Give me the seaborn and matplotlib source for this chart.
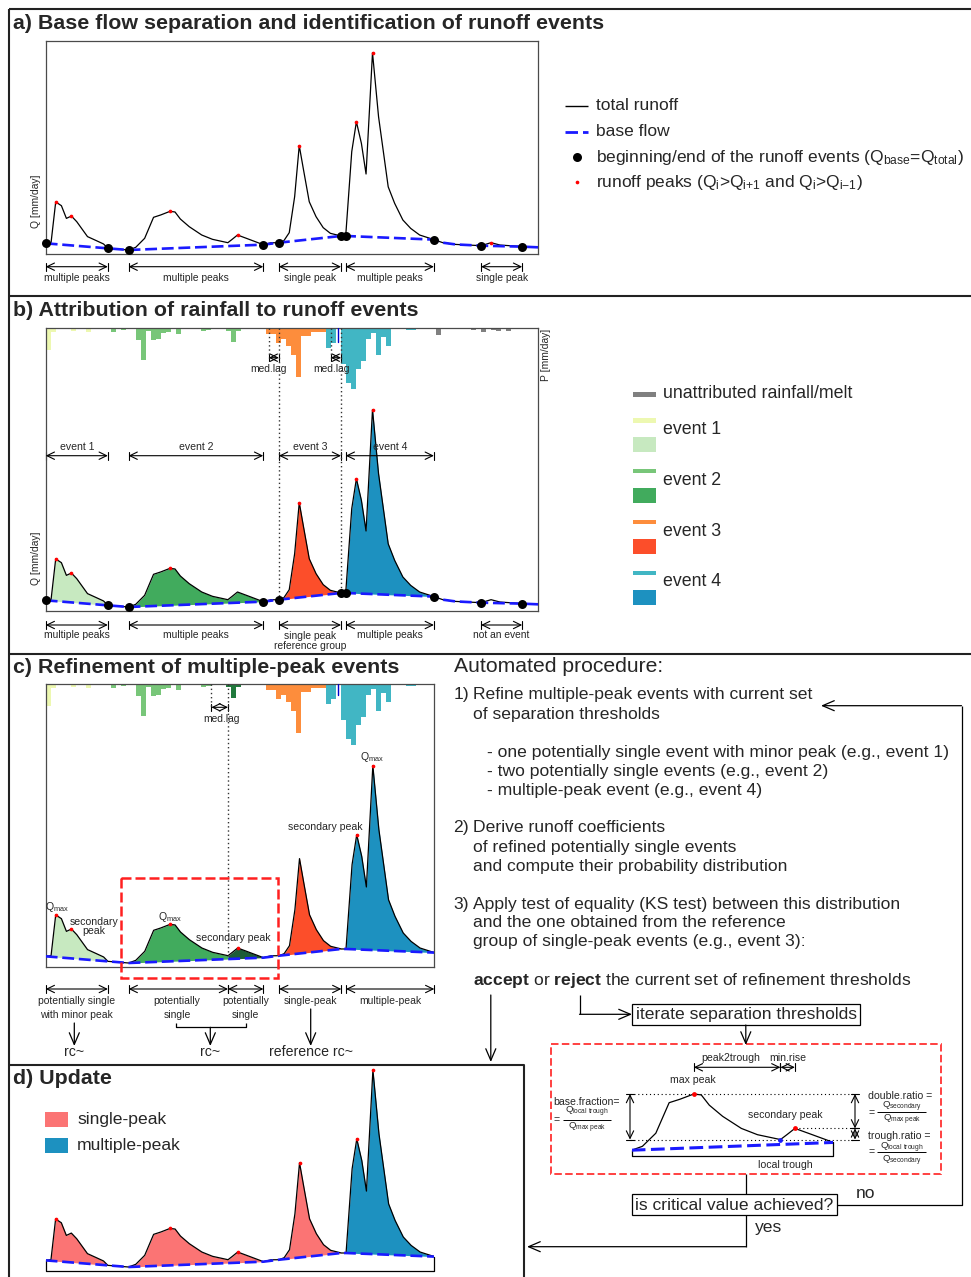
import numpy as np
import matplotlib
matplotlib.use("Agg")
import matplotlib.pyplot as plt
from matplotlib.patches import Rectangle
import seaborn as sns

sns.set_theme(style="white")
plt.rcParams["font.family"] = ["Liberation Sans", "DejaVu Sans"]
plt.rcParams["mathtext.fontset"] = "custom"
plt.rcParams["mathtext.rm"] = "Liberation Sans"
plt.rcParams["mathtext.it"] = "Liberation Sans:italic"
plt.rcParams["mathtext.bf"] = "Liberation Sans:bold"
plt.rcParams["mathtext.default"] = "regular"

# ---------------- hydrograph (day, Q in mm/day) ----------------
t_total = [0.0, 1.07, 2.0, 3.14, 4.14, 5.14, 6.21, 8.36, 10.14, 11.57, 12.43,
           16.57, 18.0, 19.79, 21.57, 23.0, 24.86, 25.86, 26.93, 28.71, 31.21, 33.36,
           36.43, 37.29, 38.36, 40.14, 42.29, 43.5, 45.0, 46.64,
           47.64, 48.71, 49.79, 50.71, 51.57, 52.71, 54.07, 55.5, 56.93, 59.07,
           60.0, 61.21, 62.14, 63.14, 64.07, 65.36, 66.57, 68.5, 69.79, 71.43, 73.0,
           74.79, 77.64, 79.43, 81.93, 87.07, 89.07, 90.86, 93.71, 95.29, 98.5]
q_total = [1.0, 1.06, 4.88, 4.53, 3.34, 3.56, 3.03, 1.63, 1.25, 0.94, 0.53,
           0.375, 0.625, 1.47, 3.44, 3.66, 4.0, 3.94, 3.28, 2.56, 1.78, 1.375,
           1.06, 1.375, 1.78, 1.47, 1.09, 0.875, 1.05, 1.06,
           1.25, 2.0, 5.375, 10.16, 7.875, 4.9, 3.5, 2.47, 1.94, 1.69,
           1.69, 9.6, 12.4, 10.375, 7.5, 18.875, 12.875, 6.3, 4.75, 3.19, 2.4,
           1.78, 1.35, 1.06, 0.9, 0.78, 1.06, 0.84, 0.75, 0.69, 0.625]
t_base = [0.0, 12.43, 16.57, 43.5, 46.64, 59.07, 60.0, 77.64, 79.43, 81.93, 87.07, 95.29, 98.5]
q_base = [1.0, 0.53, 0.375, 0.875, 1.06, 1.69, 1.69, 1.35, 1.06, 0.9, 0.78, 0.69, 0.625]

event_start = [0.0, 16.57, 46.64, 60.0, 87.07]
event_end = [12.43, 43.5, 59.07, 77.64, 95.29]

peaks_a = [2.0, 5.14, 24.86, 38.36, 50.71, 62.14, 65.36, 89.07]
peaks_b = [2.0, 5.14, 24.86, 50.71, 62.14, 65.36]
peaks_c = [2.0, 5.14, 24.86, 38.36, 62.14, 65.36]
peaks_d = [2.0, 24.86, 38.36, 50.71, 62.14, 65.36]

# ---------------- daily precipitation (mm/day) ----------------
rain_day = [0, 1, 2, 3, 5, 8,
            13, 15, 17, 18, 19, 20, 21, 22, 23, 24, 26, 31, 32, 36, 37, 38,
            44, 45, 46, 47, 48, 49, 50, 51, 52, 53, 54, 55,
            56, 57, 59, 60, 61, 62, 63, 64, 65, 66, 67, 68, 69, 72, 73,
            75, 77, 78, 82, 85, 87, 89, 90, 92]
rain_mm = [11.0, 1.8, 0.5, 0.4, 1.5, 1.8,
           1.8, 1.0, 0.5, 6.0, 16.0, 1.4, 6.0, 5.2, 2.5, 2.0, 3.0, 1.2, 0.6, 1.5, 7.0, 1.5,
           2.85, 2.85, 7.5, 5.5, 9.0, 13.5, 24.5, 4.0, 4.0, 1.85, 1.85, 1.85,
           10.0, 7.3, 17.8, 27.3, 30.3, 20.3, 16.5, 5.2, 2.3, 13.2, 4.5, 8.7, 0.5, 1.0, 1.0,
           0.4, 0.5, 3.2, 0.4, 1.0, 2.0, 1.0, 1.5, 1.5]
rain_event = (["e1"] * 6 + ["e2"] * 16 + ["e3"] * 12 + ["e4"] * 15 + ["none"] * 9)

labels_a = ["multiple peaks", "multiple peaks", "single peak", "multiple peaks", "single peak"]
labels_b_top = ["event 1", "event 2", "event 3", "event 4"]
labels_b_bottom = ["multiple peaks", "multiple peaks", "single peak\nreference group",
                   "multiple peaks", "not an event"]

trough_t = 36.43          # local trough splitting event 2
split_rain_day = 34       # rain of event 2 assigned to the second sub-event
medlag_b = [(44.6, 46.64), (57.0, 59.07)]
medlag_c = (33.1, 36.43)

# ---------------- colours ----------------
BLUE = "#1a1aff"
RAIN_COL = {"e1": "#edf8b1", "e2": "#78c679", "e3": "#fd8d3c", "e4": "#41b6c4", "none": "#808080"}
FILL_COL = ["#c7e9c0", "#41ab5d", "#fc4e2a", "#1d91c0"]
DARK_RAIN = "#217a3d"
DARK_FILL = "#1c5c37"
SINGLE_COL = "#fb7474"
MULTI_COL = "#1d91c0"

W, H = 971, 1277
fig = plt.figure(figsize=(W / 100, H / 100), dpi=100)
fig.patch.set_facecolor("white")

BOXES = {}


def px_axes(box, xlim, ylim):
    x0, y0, x1, y1 = box
    ax = fig.add_axes([x0 / W, 1 - y1 / H, (x1 - x0) / W, (y1 - y0) / H])
    BOXES[ax] = (box, xlim, ylim)
    ax.set_xlim(*xlim)
    ax.set_ylim(*ylim)
    ax.set_xticks([])
    ax.set_yticks([])
    for s in ax.spines.values():
        s.set_color("#4a4a4a")
        s.set_linewidth(0.9)
    return ax


def pxy(ax, ypx):
    (x0, y0, x1, y1), xl, yl = BOXES[ax]
    return yl[0] + (y1 - ypx) / (y1 - y0) * (yl[1] - yl[0])


def pxx(ax, xpx):
    (x0, y0, x1, y1), xl, yl = BOXES[ax]
    return xl[0] + (xpx - x0) / (x1 - x0) * (xl[1] - xl[0])


def finish(ax):
    _, xl, yl = BOXES[ax]
    ax.set_xlim(*xl)
    ax.set_ylim(*yl)
    ax.set_xlabel("")
    ax.set_ylabel("")


def draw_q(ax, tmin, tmax):
    t = np.array(t_total)
    m = (t >= tmin - 1e-9) & (t <= tmax + 1e-9)
    sns.lineplot(x=t[m], y=np.array(q_total)[m], ax=ax, color="black",
                 lw=0.9, estimator=None, sort=False, legend=False, zorder=3)


def draw_base(ax, tmax, lw=1.9):
    m = np.array(t_base) <= tmax + 1e-9
    sns.lineplot(x=np.array(t_base)[m], y=np.array(q_base)[m], ax=ax, color=BLUE,
                 lw=lw, estimator=None, sort=False, legend=False, zorder=4)
    ax.lines[-1].set_linestyle((0, (4.5, 1.8)))


def fill_event(ax, t0, t1, color):
    inner = [t for t in list(t_total) + list(t_base) if t0 < t < t1]
    grid = np.unique(np.concatenate([[t0, t1], inner]))
    ax.fill_between(grid, np.interp(grid, t_base, q_base), np.interp(grid, t_total, q_total),
                    color=color, lw=0, zorder=2)


def dots(ax, ts, series_t, series_q, color, s):
    sns.scatterplot(x=ts, y=np.interp(ts, series_t, series_q), ax=ax, color=color, s=s,
                    linewidth=0, zorder=6, clip_on=False, legend=False)


def span(ax, t0, t1, ypx, tick=4.0, lw=0.8):
    y = pxy(ax, ypx)
    dy = pxy(ax, ypx - tick) - y
    ax.annotate("", xy=(t1, y), xytext=(t0, y),
                arrowprops=dict(arrowstyle="<->,head_length=0.45,head_width=0.22", lw=lw,
                                color="black", shrinkA=0, shrinkB=0),
                annotation_clip=False)
    for t in (t0, t1):
        ax.plot([t, t], [y - dy, y + dy], color="black", lw=lw, clip_on=False)


def vspan(ax, t, q0, q1, tick=4.0, lw=0.8):
    dx = pxx(ax, tick) - pxx(ax, 0)
    ax.annotate("", xy=(t, q1), xytext=(t, q0),
                arrowprops=dict(arrowstyle="<->,head_length=0.45,head_width=0.22", lw=lw,
                                color="black", shrinkA=0, shrinkB=0),
                annotation_clip=False)
    for q in (q0, q1):
        ax.plot([t - dx, t + dx], [q, q], color="black", lw=lw, clip_on=False)


def draw_rain(ax, split=None):
    rax = ax.twinx()
    cols = []
    for d, ev in zip(rain_day, rain_event):
        c = RAIN_COL[ev]
        if split is not None and ev == "e2" and d >= split:
            c = DARK_RAIN
        cols.append(c)
    rax.bar(rain_day, rain_mm, width=1.0, align="edge", color=cols, lw=0)
    _, xl, yl = BOXES[ax]
    rax.set_xlim(*xl)
    rax.set_ylim(141.35, 0)
    rax.set_yticks([])
    rax.grid(False)
    for s in rax.spines.values():
        s.set_visible(False)
    ax.set_zorder(rax.get_zorder() + 1)
    ax.patch.set_visible(False)
    return rax


# ================= a) base flow separation =================
axA = px_axes((45.7, 40.7, 538.2, 254.0), (0, 98.5), (0, 20))
draw_q(axA, 0, 98.5)
draw_base(axA, 98.5)
bounds = sorted(event_start + event_end)
dots(axA, bounds, t_base, q_base, "black", 42)
dots(axA, peaks_a, t_total, q_total, "red", 7)
for t0, t1, lab in zip(event_start, event_end, labels_a):
    span(axA, t0, t1, 266.7)
    axA.text((t0 + t1) / 2, pxy(axA, 278.5), lab, ha="center", va="center", fontsize=7.4)
finish(axA)

# ================= b) attribution of rainfall =================
axB = px_axes((45.7, 328.3, 538.2, 611.0), (0, 98.5), (0, 26.5))
draw_rain(axB)
for i in range(4):
    fill_event(axB, event_start[i], event_end[i], FILL_COL[i])
draw_q(axB, 0, 98.5)
draw_base(axB, 98.5)
dots(axB, bounds, t_base, q_base, "black", 42)
dots(axB, peaks_b, t_total, q_total, "red", 7)
for (t0, t1), tx in zip(medlag_b, [44.0, 56.5]):
    y_arr = pxy(axB, 357.7)
    axB.plot([t0, t0], [26.5, y_arr], color="#333333", lw=1.0, ls=(0, (1, 2)), zorder=5)
    axB.plot([t1, t1], [26.5, np.interp(t1, t_base, q_base)], color="#333333", lw=1.0,
             ls=(0, (1, 2)), zorder=5)
    span(axB, t0, t1, 357.7, tick=3.5)
    axB.text(tx + 0.6, pxy(axB, 368.5), "med.lag", ha="center", va="center", fontsize=7.4)
axB.plot([58.45, 58.45], [26.5, 26.5 - 7 * 26.5 / 141.35], color="#0000cc", lw=1.0, zorder=5)
for t0, t1, lab in zip(event_start[:4], event_end[:4], labels_b_top):
    span(axB, t0, t1, 455.7)
    axB.text((t0 + t1) / 2, pxy(axB, 447.0), lab, ha="center", va="center", fontsize=7.6)
for t0, t1, lab in zip(event_start, event_end, labels_b_bottom):
    span(axB, t0, t1, 625.0)
    yy = 641.0 if "\n" in lab else 634.5
    axB.text((t0 + t1) / 2, pxy(axB, yy), lab, ha="center", va="center", fontsize=7.4,
             linespacing=0.95)
finish(axB)

# ================= c) refinement of multiple-peak events =================
T_C = 77.64
axC = px_axes((45.7, 684.3, 434.3, 967.0), (0, T_C), (0, 26.5))
draw_rain(axC, split=split_rain_day)
fill_event(axC, event_start[0], event_end[0], FILL_COL[0])
fill_event(axC, event_start[1], trough_t, FILL_COL[1])
fill_event(axC, trough_t, event_end[1], DARK_FILL)
fill_event(axC, event_start[2], event_end[2], FILL_COL[2])
fill_event(axC, event_start[3], event_end[3], FILL_COL[3])
draw_q(axC, 0, T_C)
draw_base(axC, T_C)
dots(axC, peaks_c, t_total, q_total, "red", 7)
c0, c1 = medlag_c
axC.plot([c0, c0], [26.5, pxy(axC, 707.3)], color="#333333", lw=1.0, ls=(0, (1, 2)), zorder=5)
axC.plot([c1, c1], [26.5, np.interp(c1, t_total, q_total)], color="#333333", lw=1.0,
         ls=(0, (1, 2)), zorder=5)
span(axC, c0, c1, 707.3, tick=3.5)
axC.text(pxx(axC, 221.7), pxy(axC, 719.0), "med.lag", ha="center", va="center", fontsize=7.4)
axC.plot([58.45, 58.45], [26.5, 26.5 - 5.5 * 26.5 / 141.35], color="#0000cc", lw=1.0, zorder=5)

for x, y, s in [(57, 907.5, r"Q$_{max}$"), (170, 916.5, r"Q$_{max}$"), (372, 757.5, r"Q$_{max}$"),
                (233, 937.7, "secondary peak"), (325, 826.7, "secondary peak"),
                (94, 922.3, "secondary"), (94, 930.5, "peak")]:
    axC.text(pxx(axC, x), pxy(axC, y), s, ha="center", va="center", fontsize=7.6)

c_spans = [(event_start[0], event_end[0]), (event_start[1], trough_t), (trough_t, event_end[1]),
           (event_start[2], event_end[2]), (event_start[3], event_end[3])]
for t0, t1 in c_spans:
    span(axC, t0, t1, 989.0)
finish(axC)

# ================= d) update =================
axD = px_axes((45.6, 1060.0, 434.4, 1271.0), (0, T_C), (0, 19.81))
for s in axD.spines.values():
    s.set_visible(False)
for i in range(3):
    fill_event(axD, event_start[i], event_end[i], SINGLE_COL)
fill_event(axD, event_start[3], event_end[3], MULTI_COL)
draw_q(axD, 0, T_C)
draw_base(axD, T_C)
dots(axD, peaks_d, t_total, q_total, "red", 7)
qb0, qb1 = np.interp([0.0, T_C], t_base, q_base)
axD.plot([0, 0, T_C, T_C], [qb0, 0, 0, qb1], color="black", lw=0.9, clip_on=False, zorder=3)
finish(axD)

# ================= mini hydrograph of the separation criteria =================
ev2_t0, ev2_t1 = event_start[1], event_end[1]
axM = px_axes((631.7, 1076.0, 833.4, 1156.0), (ev2_t0, ev2_t1), (0, 80 / 15.5))
for s in axM.spines.values():
    s.set_visible(False)
draw_q(axM, ev2_t0, ev2_t1)
mb = np.interp([ev2_t0, ev2_t1], t_base, q_base)
sns.lineplot(x=[ev2_t0, ev2_t1], y=mb, ax=axM, color=BLUE, lw=2.2, estimator=None,
             legend=False, zorder=4)
axM.lines[-1].set_linestyle((0, (4.5, 1.8)))
axM.plot([ev2_t0, ev2_t0, ev2_t1, ev2_t1], [mb[0], 0, 0, mb[1]], color="black", lw=0.9,
         clip_on=False)
q_max_pk = np.interp(24.86, t_total, q_total)
q_sec = np.interp(38.36, t_total, q_total)
q_tr = np.interp(trough_t, t_total, q_total)
dots(axM, [24.86, 38.36], t_total, q_total, "red", 12)
dots(axM, [trough_t], t_total, q_total, BLUE, 12)
xl_, xr_ = pxx(axM, 630.0), pxx(axM, 855.0)
dot_ls = dict(color="black", lw=0.8, ls=(0, (1, 2.5)), clip_on=False)
axM.plot([xl_, xr_], [q_max_pk, q_max_pk], **dot_ls)
axM.plot([xl_, xr_], [q_tr, q_tr], **dot_ls)
axM.plot([38.36, xr_], [q_sec, q_sec], **dot_ls)
vspan(axM, xl_, q_tr, q_max_pk)
vspan(axM, xr_, q_sec, q_max_pk)
vspan(axM, xr_, q_tr, q_sec)
span(axM, 24.86, trough_t, 1067.3)
span(axM, trough_t, 38.36, 1067.3)
finish(axM)

# ================= overlay: frames, titles, legends, flow chart =================
ov = fig.add_axes([0, 0, 1, 1], zorder=20)
ov.set_xlim(0, W)
ov.set_ylim(H, 0)
ov.axis("off")


def seg(xs, ys, **kw):
    kw.setdefault("color", "black")
    kw.setdefault("lw", 0.9)
    ov.plot(xs, ys, solid_capstyle="butt", **kw)


def arr(x0, y0, x1, y1):
    ov.annotate("", xy=(x1, y1), xytext=(x0, y0),
                arrowprops=dict(arrowstyle="->,head_length=0.7,head_width=0.3", lw=0.9,
                                color="black", shrinkA=0, shrinkB=0, mutation_scale=12))


def txt(x, y, s, size, **kw):
    kw.setdefault("va", "center")
    ov.text(x, y, s, fontsize=size, **kw)


FRAME = dict(color="#222222", lw=1.5)
seg([9, 971], [9, 9], **FRAME)
seg([9, 9], [9, 1277], **FRAME)
seg([9, 971], [296, 296], **FRAME)
seg([9, 971], [654, 654], **FRAME)
seg([9, 524, 524], [1065, 1065, 1277], **FRAME)

TITLE = dict(fontweight="bold")
txt(13, 23.5, "a) Base flow separation and identification of runoff events", 15.4, **TITLE)
txt(13, 310.5, "b) Attribution of rainfall to runoff events", 15.4, **TITLE)
txt(13, 667.5, "c) Refinement of multiple-peak events", 15.4, **TITLE)
txt(13, 1078.5, "d) Update", 15.4, **TITLE)

# axis labels
txt(36, 201, "Q [mm/day]", 7.4, rotation=90, ha="center")
txt(36, 558, "Q [mm/day]", 7.4, rotation=90, ha="center")
txt(546, 355, "P [mm/day]", 7.4, rotation=90, ha="center")

# legend of panel a
LEG = 12.5
seg([565, 588], [106, 106], lw=1.0)
seg([565, 588], [131.7, 131.7], color=BLUE, lw=2.0, ls=(0, (4.5, 1.8)))
ov.scatter([576.7], [157.3], s=42, color="black", lw=0)
ov.scatter([576.7], [182.3], s=7, color="red", lw=0)
txt(596, 106, "total runoff", LEG)
txt(596, 131.7, "base flow", LEG)
txt(596, 157.3, r"beginning/end of the runoff events (Q$_{base}$=Q$_{total}$)", LEG)
txt(596, 182.3, r"runoff peaks (Q$_{i}$>Q$_{i{+}1}$ and Q$_{i}$>Q$_{i{-}1}$)", LEG)

# legend of panel b
ov.add_patch(Rectangle((632.7, 392.3), 23.3, 4.4, color=RAIN_COL["none"], lw=0))
txt(663.3, 394.0, "unattributed rainfall/melt", 12.8)
for i, (ty, by, tty) in enumerate([(418.3, 436.7, 430.0), (469.0, 487.7, 480.5),
                                   (520.0, 539.0, 531.0), (570.7, 590.0, 581.5)]):
    ov.add_patch(Rectangle((632.7, ty), 23.3, 4.4, color=RAIN_COL["e%d" % (i + 1)], lw=0))
    ov.add_patch(Rectangle((632.7, by), 23.3, 15.0, color=FILL_COL[i], lw=0))
    txt(663.3, tty, "event %d" % (i + 1), 12.8)

# panel c: refinement window and event groups
ov.add_patch(Rectangle((121, 877.7), 157.3, 100.0, fill=False, ec="#ff2020", lw=1.8,
                       ls=(0, (4, 1.6))))
SM = 7.5
txt(76.3, 1000.7, "potentially single", SM, ha="center")
txt(76.3, 1015.3, "with minor peak", SM, ha="center")
txt(177.0, 1000.7, "potentially", SM, ha="center")
txt(177.0, 1015.3, "single", SM, ha="center")
txt(245.7, 1000.7, "potentially", SM, ha="center")
txt(245.7, 1015.3, "single", SM, ha="center")
txt(310.7, 1000.7, "single-peak", SM, ha="center")
txt(390.0, 1000.7, "multiple-peak", SM, ha="center")
arr(74.3, 1023, 74.3, 1046)
seg([176.3, 176.3, 245.7, 245.7], [1022.5, 1027.3, 1027.3, 1022.5])
arr(210.3, 1027.3, 210.3, 1046)
arr(310.7, 1009, 310.7, 1046)
txt(74.3, 1052.5, "rc~", 10.2, ha="center")
txt(210.3, 1052.5, "rc~", 10.2, ha="center")
txt(310.7, 1052.5, "reference rc~", 10.2, ha="center")

# panel d legend
ov.add_patch(Rectangle((45.0, 1111.7), 22.6, 15.0, color=SINGLE_COL, lw=0))
ov.add_patch(Rectangle((45.0, 1138.3), 22.6, 14.4, color=MULTI_COL, lw=0))
txt(77.0, 1119.3, "single-peak", 12.6)
txt(77.0, 1145.7, "multiple-peak", 12.6)

# automated procedure
PR = 12.6
txt(454, 667, "Automated procedure:", 15.2)
txt(453.5, 695, "1)", PR)
txt(472.8, 695, "Refine multiple-peak events with current set", PR)
txt(472.8, 714, "of separation thresholds", PR)
txt(487.4, 752.3, "- one potentially single event with minor peak (e.g., event 1)", PR)
txt(487.4, 771.7, "- two potentially single events (e.g., event 2)", PR)
txt(487.4, 790.7, "- multiple-peak event (e.g., event 4)", PR)
txt(453.5, 827.7, "2)", PR)
txt(472.8, 827.7, "Derive runoff coefficients", PR)
txt(472.8, 847.3, "of refined potentially single events", PR)
txt(472.8, 866.0, "and compute their probability distribution", PR)
txt(453.5, 904.0, "3)", PR)
txt(472.8, 904.0, "Apply test of equality (KS test) between this distribution", PR)
txt(472.8, 922.7, "and the one obtained from the reference", PR)
txt(472.8, 941.7, "group of single-peak events (e.g., event 3):", PR)
txt(472.8, 980.0, r"$\mathbf{accept}$ or $\mathbf{reject}$ the current set of refinement thresholds", PR)

# flow chart
arr(490.8, 995, 490.8, 1062)
seg([579.5, 579.5], [995, 1014.3])
arr(579.5, 1014.3, 632, 1014.3)
ov.add_patch(Rectangle((632, 1004.3), 228, 20.7, fill=False, ec="black", lw=0.9))
txt(746, 1015, "iterate separation thresholds", PR, ha="center")
arr(745.8, 1025, 745.8, 1045)
ov.add_patch(Rectangle((551, 1044.3), 390, 129.4, fill=False, ec="#ff2020", lw=1.2,
                       ls=(0, (4.5, 2))))
seg([745.7, 745.7], [1173.7, 1194.3])
ov.add_patch(Rectangle((631.7, 1194.3), 205, 20.7, fill=False, ec="black", lw=0.9))
txt(734.2, 1205, "is critical value achieved?", PR, ha="center")
seg([836.7, 961.5, 961.5], [1205, 1205, 705.7])
arr(961.5, 705.7, 821, 705.7)
txt(866, 1193.3, "no", PR, ha="center")
seg([745.7, 745.7], [1215, 1246.7])
arr(745.7, 1246.7, 527, 1246.7)
txt(769, 1227.7, "yes", PR, ha="center")

# criteria annotations
MS = 7.6
txt(730.7, 1058.3, "peak2trough", MS, ha="center")
txt(787.3, 1058.3, "min.rise", MS, ha="center")
txt(693.3, 1080.0, "max peak", MS, ha="center")
txt(785.0, 1115.0, "secondary peak", MS, ha="center")
txt(785.0, 1165.0, "local trough", MS, ha="center")
txt(553.3, 1101.7, "base.fraction=", MS)
txt(553.3, 1120.5, "=", MS)
txt(586.8, 1112.0, r"Q$_{local\ trough}$", 6.8, ha="center")
seg([563, 610.7], [1120, 1120], lw=0.7)
txt(586.8, 1128.3, r"Q$_{max\ peak}$", 6.8, ha="center")
txt(868.3, 1096.0, "double.ratio =", MS)
txt(868.3, 1112.8, "=", MS)
txt(901.7, 1107.3, r"Q$_{secondary}$", 6.8, ha="center")
seg([877, 926], [1112.3, 1112.3], lw=0.7)
txt(901.7, 1120.3, r"Q$_{max\ peak}$", 6.8, ha="center")
txt(868.3, 1136.0, "trough.ratio =", MS)
txt(868.3, 1152.2, "=", MS)
txt(901.7, 1147.8, r"Q$_{local\ trough}$", 6.8, ha="center")
seg([877, 926], [1151.7, 1151.7], lw=0.7)
txt(901.7, 1161.0, r"Q$_{secondary}$", 6.8, ha="center")

fig.savefig("out.png", dpi=100, facecolor="white")
